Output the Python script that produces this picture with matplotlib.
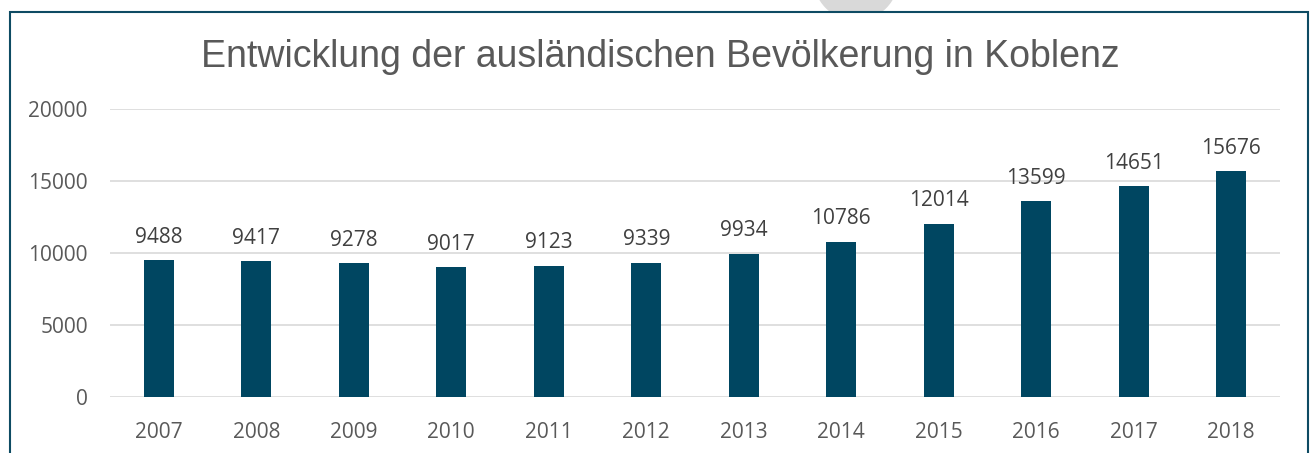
import matplotlib
matplotlib.use("Agg")
from matplotlib import pyplot as plt
from matplotlib.patches import Rectangle, Ellipse

# data
years = ["2007", "2008", "2009", "2010", "2011", "2012",
         "2013", "2014", "2015", "2016", "2017", "2018"]
values = [9488, 9417, 9278, 9017, 9123, 9339,
          9934, 10786, 12014, 13599, 14651, 15676]
y_ticks = [0, 5000, 10000, 15000, 20000]

bar_color = "#004661"
text_color = "#595959"
W, H = 1314, 453

fig = plt.figure(figsize=(W / 100, H / 100), dpi=100)
fig.patch.set_facecolor("white")

# faint grey circle at the top, partly hidden behind the frame
fig.patches.append(Ellipse((856 / W, 1 + 22 / H), 84 / W, 84 / H,
                           transform=fig.transFigure, color="#d9d9d9",
                           zorder=-2))
# frame around the chart
fig.patches.append(Rectangle((10 / W, -0.05), 1298 / W, 1.05 - 12 / H,
                             transform=fig.transFigure, facecolor="white",
                             edgecolor="#0e4b63", linewidth=1.5, zorder=-1))

ax = fig.add_axes([110 / W, 1 - 397 / H, 1170 / W, 288 / H])
ax.set_facecolor("none")
x = range(len(years))
ax.bar(x, values, width=0.31, color=bar_color, zorder=2)

for xi, v in zip(x, values):
    ax.annotate(str(v), (xi, v), xytext=(0, 9), textcoords="offset points",
                ha="center", va="bottom", fontsize=15, color="#404040",
                family="Open Sans")

ax.set_xlim(-0.5, len(years) - 0.5)
ax.set_ylim(0, 20000)
ax.set_yticks(y_ticks)
ax.set_yticklabels([str(t) for t in y_ticks], family="Open Sans",
                   fontsize=15, color=text_color)
ax.set_xticks(list(x))
ax.set_xticklabels(years, family="Open Sans", fontsize=15, color=text_color)
ax.tick_params(axis="both", length=0)
ax.tick_params(axis="y", pad=16)
ax.tick_params(axis="x", pad=18)
ax.grid(axis="y", color="#d9d9d9", linewidth=1.2, zorder=0)
ax.set_axisbelow(True)
for s in ax.spines.values():
    s.set_visible(False)

fig.text(660 / W, 1 - 57 / H, "Entwicklung der ausländischen Bevölkerung in Koblenz",
         ha="center", va="center", fontsize=27, color=text_color,
         family="Liberation Sans")

fig.savefig("out.png", dpi=100)
